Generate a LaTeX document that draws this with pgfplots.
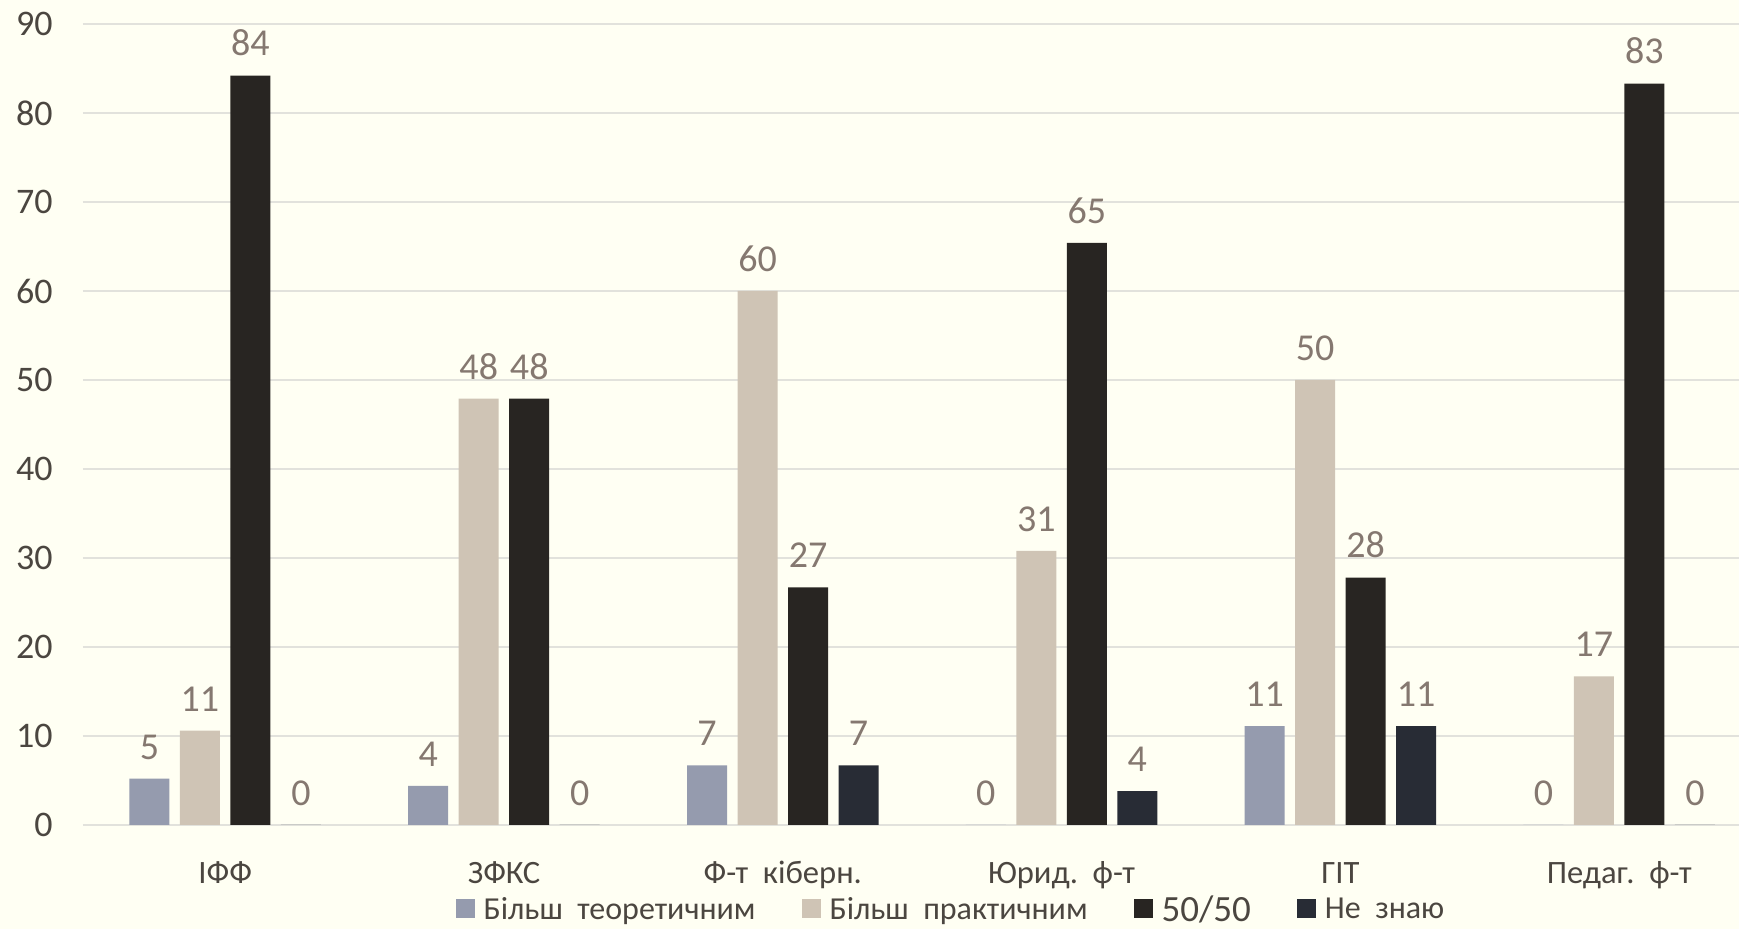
\documentclass[border=0pt]{standalone}
\usepackage{pgfplots}
\pgfplotsset{compat=1.18}
\usepackage{fontspec}
\setmainfont{Carlito}
\definecolor{bg}{HTML}{FFFFF3}
\definecolor{gridc}{HTML}{E2E2DC}
\definecolor{teor}{HTML}{959BAE}
\definecolor{prak}{HTML}{CFC4B5}
\definecolor{half}{HTML}{282522}
\definecolor{nez}{HTML}{282C35}
\definecolor{lab}{HTML}{857870}
\definecolor{tick}{HTML}{4B4640}
\begin{document}
\begin{tikzpicture}
\fill[bg] (-41.5pt,-52pt) rectangle (828pt,412.5pt);
\begin{axis}[
  at={(0pt,0pt)}, anchor=south west,
  scale only axis, width=837.8pt, height=400.5pt,
  ybar=5.25pt, bar width=20pt,
  xmin=-0.51, xmax=5.5, ymin=0, ymax=90,
  ytick={0,10,...,90}, xtick={0,...,5},
  xticklabels={ІФФ, ЗФКС, Ф-т~~кіберн., Юрид.~~ф-т, ГІТ, Педаг.~~ф-т},
  axis line style={draw=none}, major tick length=0pt,
  ymajorgrids, grid style={gridc, line width=0.7pt},
  /pgf/number format/assume math mode=true,
  yticklabel style={font=\fontsize{18}{20}\selectfont, text=tick, anchor=east, inner sep=0pt, xshift=-15pt},
  xticklabel style={font=\fontsize{16.3}{18}\selectfont, text=tick, anchor=base, inner sep=0pt, yshift=-29.5pt},
  point meta=explicit,
  nodes near coords={\pgfmathprintnumber[fixed,precision=0]{\pgfplotspointmeta}},
  nodes near coords style={font=\fontsize{19}{20}\selectfont, text=lab, anchor=south, inner sep=0pt, yshift=9.5pt},
  legend columns=4,
  legend style={at={(0.5186,-0.1060)}, anchor=center, draw=none, fill=none,
    font=\fontsize{16}{18}\selectfont, text=tick,
    /tikz/every even column/.append style={column sep=21pt}},
  legend image code/.code={\fill[#1] (0pt,-4.2pt) rectangle (9.6pt,5.4pt); \path (12pt,0pt);},
]
\addplot[fill=teor, draw=none] coordinates {(0,5.2) [5] (1,4.4) [4] (2,6.7) [7] (3,0) [0] (4,11.1) [11] (5,0) [0]};
\addplot[fill=prak, draw=none] coordinates {(0,10.6) [11] (1,47.9) [48] (2,60) [60] (3,30.8) [31] (4,50) [50] (5,16.7) [17]};
\addplot[fill=half, draw=none] coordinates {(0,84.2) [84] (1,47.9) [48] (2,26.7) [27] (3,65.4) [65] (4,27.8) [28] (5,83.3) [83]};
\addplot[fill=nez, draw=none] coordinates {(0,0) [0] (1,0) [0] (2,6.7) [7] (3,3.8) [4] (4,11.1) [11] (5,0) [0]};
\legend{Більш~~теоретичним, Більш~~практичним, {\fontsize{18.5}{20}\selectfont 50/50}, Не~~знаю}
\end{axis}
\pgfresetboundingbox
\useasboundingbox (-41.5pt,-52pt) rectangle (828pt,412.5pt);
\end{tikzpicture}
\end{document}
